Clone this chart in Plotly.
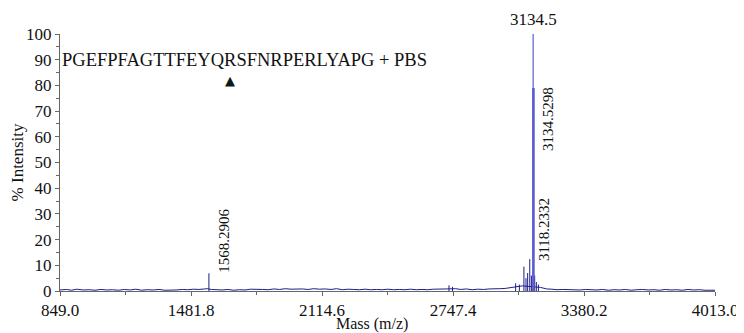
import plotly.graph_objects as go

# ---- data ----
noise_mass = [849, 880, 905, 930, 962, 990, 1018, 1047, 1075, 1102, 1131, 1160, 1188, 1215, 1243, 1270,
              1300, 1328, 1355, 1383, 1410, 1440, 1466, 1495, 1520, 1548, 1560, 1580, 1605, 1632, 1660,
              1688, 1715, 1743, 1770, 1800, 1828, 1855, 1882, 1910, 1938, 1965, 1993, 2020, 2048, 2075,
              2103, 2130, 2158, 2185, 2213, 2240, 2268, 2295, 2323, 2350, 2378, 2405, 2433, 2460, 2488,
              2515, 2543, 2570, 2598, 2625, 2653, 2680, 2705, 2715, 2760, 2785, 2812, 2840, 2867,
              2895, 2922, 2950, 2975, 3000, 3020, 3040, 3060, 3082, 3170, 3185, 3200, 3225, 3250, 3278,
              3305, 3333, 3360, 3388, 3415, 3443, 3470, 3498, 3525, 3553, 3580, 3608, 3635, 3663, 3690,
              3718, 3745, 3773, 3800, 3828, 3855, 3883, 3910, 3938, 3965, 3990, 4013]
noise_int = [0.4, 0.6, 0.3, 0.7, 0.4, 0.5, 0.3, 0.6, 0.4, 0.5, 0.3, 0.6, 0.4, 0.7, 0.3, 0.5,
             0.4, 0.6, 0.3, 0.5, 0.4, 0.6, 0.5, 0.7, 0.6, 0.8, 0.9, 0.6, 0.5, 0.4, 0.6,
             0.3, 0.5, 0.4, 0.7, 0.5, 0.6, 0.5, 0.8, 0.6, 0.9, 0.7, 0.9, 0.8, 0.6, 0.9,
             0.7, 0.8, 0.6, 0.9, 0.5, 0.7, 0.6, 0.5, 0.7, 0.5, 0.6, 0.5, 0.7, 0.5, 0.6,
             0.5, 0.7, 0.5, 0.6, 0.5, 0.7, 0.8, 1.0, 0.8, 0.9, 0.6, 0.8, 0.5, 0.7,
             0.6, 0.8, 0.7, 0.9, 1.0, 1.2, 1.4, 1.6, 2.0, 1.4, 1.0, 0.8, 0.7, 0.5, 0.6,
             0.5, 0.6, 0.4, 0.6, 0.5, 0.4, 0.6, 0.3, 0.5, 0.4, 0.6, 0.3, 0.5, 0.6, 0.4,
             0.5, 0.3, 0.6, 0.4, 0.5, 0.3, 0.6, 0.4, 0.5, 0.3, 0.4, 0.3]

peak_mass = [1568.3, 2728, 2745, 3050, 3068, 3090, 3100, 3108, 3118.2, 3126, 3142, 3150, 3160]
peak_int = [6.9, 2.2, 1.6, 3.0, 2.5, 9.5, 5.0, 7.0, 12.4, 6.0, 6.0, 3.5, 2.5]

main_mass = [3134.5, 3135.8]
main_int = [100, 79]

x_ticks = [849.0, 1481.8, 2114.6, 2747.4, 3380.2, 4013.0]
x_minor = [1165.4, 1798.2, 2431.0, 3063.8, 3696.6]
y_ticks = [0, 10, 20, 30, 40, 50, 60, 70, 80, 90, 100]

labels = [("1568.2906", 1568.3), ("3134.5298", 3134.5), ("3118.2332", 3118.2)]
label_y = [19.5, 67, 24]

peptide = "PGEFPFAGTTFEYQRSFNRPERLYAPG + PBS"

FONT = "Liberation Serif, Times New Roman, serif"
LINE = "#1c1c8e"
LIGHT = "#5c5cd0"
TXT = "#111111"

fig = go.Figure()
fig.add_trace(go.Scatter(x=noise_mass, y=noise_int, mode="lines",
                         line=dict(color=LINE, width=1), hoverinfo="skip"))

sx, sy = [], []
for m, v in zip(peak_mass, peak_int):
    sx += [m, m, None]
    sy += [0, v, None]
fig.add_trace(go.Scatter(x=sx, y=sy, mode="lines", line=dict(color=LINE, width=1)))

fig.add_trace(go.Scatter(x=[main_mass[0], main_mass[0]], y=[0, main_int[0]], mode="lines",
                         line=dict(color=LIGHT, width=1.2)))
fig.add_trace(go.Scatter(x=[main_mass[1], main_mass[1]], y=[0, main_int[1]], mode="lines",
                         line=dict(color=LIGHT, width=2.6)))

anns = []
for (txt, m), yy in zip(labels, label_y):
    anns.append(dict(x=m, y=yy, xref="x", yref="y", text=txt, showarrow=False,
                     textangle=-90, xshift=15, font=dict(family=FONT, size=15, color=TXT)))
anns.append(dict(x=main_mass[0], y=main_int[0], xref="x", yref="y", text="3134.5",
                 showarrow=False, yanchor="bottom", yshift=3,
                 font=dict(family=FONT, size=17, color=TXT)))
anns.append(dict(x=849, y=90, xref="x", yref="y", text=peptide, showarrow=False,
                 xanchor="left", xshift=0, font=dict(family=FONT, size=18.5, color=TXT)))
anns.append(dict(x=1672, y=82, xref="x", yref="y", text="▲", showarrow=False,
                 font=dict(family="DejaVu Sans", size=13, color="#0a1a14")))
anns.append(dict(x=0.476, y=-0.128, xref="paper", yref="paper", text="Mass (m/z)",
                 showarrow=False, yanchor="middle", font=dict(family=FONT, size=16, color=TXT)))

fig.update_layout(
    width=744, height=333,
    margin=dict(l=52, r=37, t=26, b=50),
    paper_bgcolor="white", plot_bgcolor="white",
    showlegend=False,
    annotations=anns,
    font=dict(family=FONT, size=17, color=TXT),
)
fig.update_xaxes(range=[849, 4013], tickvals=x_ticks, ticktext=[f"{v:.1f}" for v in x_ticks],
                 automargin=False,
                 showgrid=False, zeroline=False, showline=True, linecolor="#666", linewidth=1,
                 ticks="outside", ticklen=4, tickcolor="#666",
                 minor=dict(tickvals=x_minor, ticks="outside", ticklen=3, tickcolor="#666"),
                 tickfont=dict(family=FONT, size=17, color=TXT))
fig.update_yaxes(range=[0, 100], tickvals=y_ticks, showgrid=False, zeroline=False,
                 automargin=False,
                 showline=True, linecolor="#666", linewidth=1,
                 ticks="outside", ticklen=4, tickcolor="#666",
                 minor=dict(dtick=5, ticks="outside", ticklen=3, tickcolor="#666"),
                 tickfont=dict(family=FONT, size=17, color=TXT),
                 title=dict(text="% Intensity", font=dict(family=FONT, size=17, color=TXT), standoff=6))

fig.write_html("out.html")
